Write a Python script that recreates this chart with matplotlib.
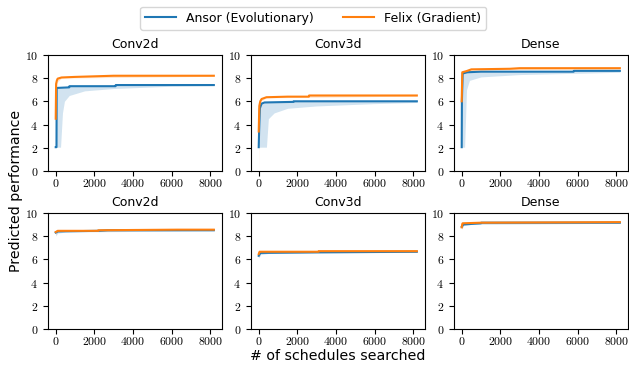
import matplotlib
matplotlib.use("Agg")
import matplotlib.pyplot as plt
from matplotlib import ticker
import numpy as np

plt.rcParams["mathtext.fontset"] = "cm"
plt.rcParams["font.family"] = ["DejaVu Sans"]

# Panel titles (top row = first model, bottom row = second model)
titles = ["Conv2d", "Conv3d", "Dense", "Conv2d", "Conv3d", "Dense"]

# Ansor (Evolutionary): best predicted performance vs # schedules searched
ansor_x = [
    [0, 40, 50, 700, 710, 3100, 3110, 8192],
    [0, 20, 60, 150, 300, 1800, 1810, 8192],
    [0, 10, 50, 300, 1000, 5800, 5810, 8192],
    [0, 60, 100, 2200, 2700, 8192],
    [0, 50, 100, 3000, 8192],
    [0, 60, 100, 1000, 1010, 8192],
]
ansor_y = [
    [2.05, 2.05, 7.15, 7.2, 7.3, 7.3, 7.4, 7.4],
    [2.05, 3.4, 5.4, 5.8, 5.9, 5.95, 6.0, 6.0],
    [2.05, 6.0, 8.4, 8.5, 8.55, 8.55, 8.62, 8.62],
    [8.3, 8.35, 8.4, 8.45, 8.5, 8.5],
    [6.3, 6.45, 6.55, 6.6, 6.65],
    [8.8, 8.95, 9.0, 9.1, 9.15, 9.15],
]
# lower edge of the Ansor spread band
ansor_lo_x = [
    [0, 250, 350, 450, 700, 1500, 3000, 6000, 8192],
    [0, 400, 500, 800, 1500, 3000, 6000, 8192],
    [0, 150, 250, 400, 1000, 3000, 8192],
    [0, 100, 500, 8192],
    [0, 100, 500, 8192],
    [0, 100, 500, 8192],
]
ansor_lo_y = [
    [2.05, 2.05, 5.0, 6.0, 6.5, 6.9, 7.1, 7.3, 7.35],
    [2.05, 2.05, 4.5, 5.0, 5.4, 5.6, 5.8, 5.9],
    [2.05, 2.05, 7.0, 7.8, 8.1, 8.3, 8.5],
    [8.0, 8.25, 8.35, 8.45],
    [6.1, 6.4, 6.5, 6.6],
    [8.6, 8.9, 9.0, 9.1],
]

# Felix (Gradient)
felix_x = [
    [0, 20, 60, 100, 300, 1000, 3000, 8192],
    [0, 30, 80, 150, 400, 1500, 2600, 2610, 8192],
    [0, 30, 250, 500, 2500, 3000, 8192],
    [0, 60, 100, 2200, 2210, 6300, 8192],
    [0, 30, 50, 3100, 3110, 8192],
    [0, 30, 50, 1000, 8192],
]
felix_y = [
    [4.5, 7.5, 7.8, 7.95, 8.05, 8.1, 8.2, 8.2],
    [3.4, 5.6, 6.0, 6.2, 6.35, 6.4, 6.4, 6.5, 6.5],
    [6.0, 8.5, 8.6, 8.75, 8.8, 8.85, 8.85],
    [8.35, 8.4, 8.45, 8.45, 8.5, 8.55, 8.55],
    [6.45, 6.6, 6.65, 6.65, 6.7, 6.7],
    [8.75, 9.05, 9.1, 9.15, 9.2],
]
felix_lo_x = [
    [0, 30, 100, 300, 8192],
    [0, 30, 100, 400, 8192],
    [0, 30, 250, 500, 8192],
    [0, 100, 500, 8192],
    [0, 100, 500, 8192],
    [0, 100, 500, 8192],
]
felix_lo_y = [
    [4.5, 7.2, 7.7, 8.0, 8.15],
    [0.0, 5.2, 6.0, 6.3, 6.45],
    [6.0, 8.3, 8.5, 8.7, 8.8],
    [8.1, 8.35, 8.4, 8.5],
    [6.2, 6.55, 6.6, 6.65],
    [8.6, 9.0, 9.1, 9.15],
]

BLUE = "#1f77b4"
ORANGE = "#ff7f0e"


def band(ax, lx, ly, mx, my, color):
    xs = np.union1d(np.array(lx, float), np.array(mx, float))
    lo = np.interp(xs, lx, ly)
    hi = np.interp(xs, mx, my)
    ax.fill_between(xs, np.minimum(lo, hi), np.maximum(lo, hi), color=color, alpha=0.2, lw=0)


fig, axes = plt.subplots(2, 3, figsize=(6.29, 3.68), dpi=100)
fig.subplots_adjust(left=0.076, right=0.998, top=0.851, bottom=0.106, wspace=0.167, hspace=0.36)

fmt = ticker.FuncFormatter(lambda v, p: f"${int(v)}$")
for i, ax in enumerate(axes.flat):
    band(ax, ansor_lo_x[i], ansor_lo_y[i], ansor_x[i], ansor_y[i], BLUE)
    band(ax, felix_lo_x[i], felix_lo_y[i], felix_x[i], felix_y[i], ORANGE)
    ax.plot(ansor_x[i], ansor_y[i], color=BLUE, lw=1.5, label="Ansor (Evolutionary)")
    ax.plot(felix_x[i], felix_y[i], color=ORANGE, lw=1.5, label="Felix (Gradient)")
    ax.set_title(titles[i], fontsize=9, pad=5)
    ax.set_ylim(0, 10)
    ax.set_xlim(-410, 8602)
    ax.set_xticks([0, 2000, 4000, 6000, 8000])
    ax.set_yticks([0, 2, 4, 6, 8, 10])
    ax.xaxis.set_major_formatter(fmt)
    ax.yaxis.set_major_formatter(fmt)
    ax.tick_params(labelsize=8.5, length=3.5, width=0.8)
    ax.tick_params(axis="x", pad=1)

handles, labels = axes[0, 0].get_legend_handles_labels()
fig.legend(handles, labels, loc="center", bbox_to_anchor=(0.498, 0.951), ncol=2,
           fontsize=9, frameon=True, columnspacing=2.3, handlelength=2.5)
fig.text(0.025, 0.48, "Predicted performance", rotation=90, ha="center", va="center", fontsize=10.2)
fig.text(0.537, 0.032, "# of schedules searched", ha="center", va="center", fontsize=10.2)

fig.savefig("out.png", dpi=100)
